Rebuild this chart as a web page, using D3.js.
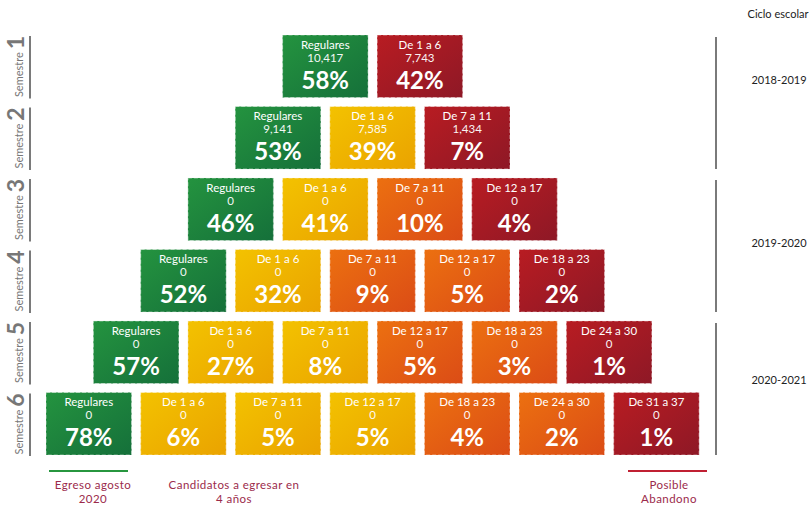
<!DOCTYPE html>
<html><head><meta charset="utf-8">
<script src="https://cdn.jsdelivr.net/npm/d3@7"></script>
<style>
body{margin:0;background:#fff;}
svg{display:block;font-family:Lato,"Open Sans",sans-serif;}
</style></head>
<body>
<svg id="c" width="812" height="507"></svg>
<script>
const semesters = ["1","2","3","4","5","6"];
const rowLabels = [
  ["Regulares","De 1 a 6"],
  ["Regulares","De 1 a 6","De 7 a 11"],
  ["Regulares","De 1 a 6","De 7 a 11","De 12 a 17"],
  ["Regulares","De 1 a 6","De 7 a 11","De 12 a 17","De 18 a 23"],
  ["Regulares","De 1 a 6","De 7 a 11","De 12 a 17","De 18 a 23","De 24 a 30"],
  ["Regulares","De 1 a 6","De 7 a 11","De 12 a 17","De 18 a 23","De 24 a 30","De 31 a 37"]
];
const rowCounts = [
  ["10,417","7,743"],
  ["9,141","7,585","1,434"],
  ["0","0","0","0"],
  ["0","0","0","0","0"],
  ["0","0","0","0","0","0"],
  ["0","0","0","0","0","0","0"]
];
const rowPercents = [
  [58,42],
  [53,39,7],
  [46,41,10,4],
  [52,32,9,5,2],
  [57,27,8,5,3,1],
  [78,6,5,5,4,2,1]
];
const rowKinds = [
  ["g","r"],
  ["g","y","r"],
  ["g","y","o","r"],
  ["g","y","o","o","r"],
  ["g","y","y","o","o","r"],
  ["g","y","y","y","o","o","r"]
];
const cycles = ["2018-2019","2019-2020","2020-2021"];
const cycleRows = [["1","2"],["3","4"],["5","6"]];

const svg = d3.select("#c");
const defs = svg.append("defs");
const grads = {
  g:["#24933f","#15703a"],
  y:["#f3c200","#eaa300"],
  o:["#ec7010","#db4c16"],
  r:["#b81c22","#8e1826"]
};
Object.entries(grads).forEach(([k,c])=>{
  const gr = defs.append("linearGradient").attr("id","grad-"+k)
    .attr("x1","0").attr("y1","0").attr("x2","1").attr("y2","1");
  gr.append("stop").attr("offset","0").attr("stop-color",c[0]);
  gr.append("stop").attr("offset","1").attr("stop-color",c[1]);
});

const nCols = 7;
const x = d3.scaleLinear().domain([0,nCols]).range([46, 46+nCols*94.6]);
const gap = 9;
const y = d3.scaleBand().domain(semesters).range([35, 455]).paddingInner(0.125).paddingOuter(0);
const bw = x(1)-x(0)-gap;
const bh = y.bandwidth();

semesters.forEach((s,ri)=>{
  const n = rowLabels[ri].length;
  const off = (nCols-n)/2;
  const data = rowLabels[ri].map((l,i)=>({label:l,count:rowCounts[ri][i],pct:rowPercents[ri][i],kind:rowKinds[ri][i],col:i+off}));
  const g = svg.append("g");
  const cell = g.selectAll("g").data(data).join("g")
    .attr("transform",d=>`translate(${x(d.col)},${y(s)})`);
  cell.append("rect").attr("width",bw).attr("height",bh)
    .attr("fill",d=>`url(#grad-${d.kind})`)
    .attr("stroke","rgba(255,255,255,0.45)").attr("stroke-width",1.2)
    .attr("stroke-dasharray","4,2");
  cell.append("text").attr("x",bw/2).attr("y",14).attr("text-anchor","middle")
    .attr("fill","#fff").attr("font-size",11.5).text(d=>d.label);
  cell.append("text").attr("x",bw/2).attr("y",27).attr("text-anchor","middle")
    .attr("fill","#fff").attr("font-size",11.5).attr("opacity",0.95).text(d=>d.count);
  cell.append("text").attr("x",bw/2).attr("y",54).attr("text-anchor","middle")
    .attr("fill","#fff").attr("font-size",24).attr("font-weight","bold").text(d=>d.pct+"%");
});

// Left semester brackets
semesters.forEach(s=>{
  const y0 = y(s)+1, y1 = y(s)+bh+1;
  svg.append("line").attr("x1",30).attr("x2",30).attr("y1",y0).attr("y2",y1)
    .attr("stroke","#7a7a7a").attr("stroke-width",2);
  const t = svg.append("text").attr("transform",`translate(23,${y0}) rotate(-90)`)
    .attr("text-anchor","end").attr("fill","#777");
  t.append("tspan").attr("font-size",11).text("Semestre ");
  t.append("tspan").attr("font-size",23).attr("font-weight","bold").attr("dy",1).text(s);
});

// Right cycle brackets
svg.append("text").attr("x",778).attr("y",18).attr("text-anchor","middle")
  .attr("font-size",11).attr("fill","#222").text("Ciclo escolar");
const cycleLabelOffset = [49, 69, 63];
cycles.forEach((c,i)=>{
  const [a,b] = cycleRows[i];
  const y0 = y(a)+2, y1 = y(b)+bh;
  svg.append("line").attr("x1",716).attr("x2",716).attr("y1",y0).attr("y2",y1)
    .attr("stroke","#7a7a7a").attr("stroke-width",2);
  svg.append("text").attr("x",779).attr("y",y(a)+cycleLabelOffset[i]).attr("text-anchor","middle")
    .attr("font-size",11).attr("fill","#222").text(c);
});

// Bottom legend
const maroon = "#9b2a4b";
svg.append("line").attr("x1",49).attr("x2",128).attr("y1",471).attr("y2",471).attr("stroke","#27963f").attr("stroke-width",2);
svg.append("line").attr("x1",628).attr("x2",707).attr("y1",471).attr("y2",471).attr("stroke","#c02033").attr("stroke-width",2);
const legend = [
  {x:93, lines:["Egreso agosto","2020"]},
  {x:234, lines:["Candidatos a egresar en","4 años"]},
  {x:669, lines:["Posible","Abandono"]}
];
legend.forEach(l=>{
  l.lines.forEach((ln,i)=>svg.append("text").attr("x",l.x).attr("y",489+i*14)
    .attr("text-anchor","middle").attr("font-size",11.5).attr("letter-spacing",0.45)
    .attr("fill",maroon).text(ln));
});
</script>
</body></html>
